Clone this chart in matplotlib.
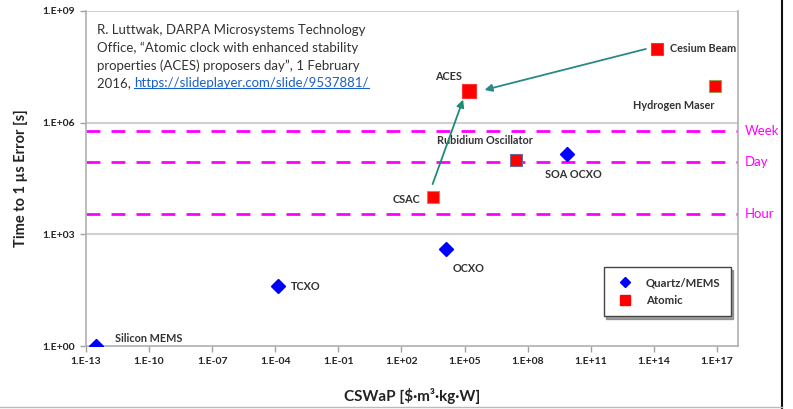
import numpy as np
import matplotlib
matplotlib.use("Agg")
import matplotlib.pyplot as plt
from matplotlib.lines import Line2D

plt.rcParams['font.family'] = ['Lato', 'DejaVu Sans']

# Oscillator technologies: CSWaP vs time to 1 us error
quartz_names = ['Silicon MEMS', 'TCXO', 'OCXO', 'SOA OCXO']
quartz_cswap = [10**-12.52, 10**-3.87, 10**4.1, 10**9.86]
quartz_time = [1.0, 10**1.61, 10**2.6, 10**5.15]

atomic_names = ['CSAC', 'Rubidium Oscillator', 'ACES', 'Cesium Beam', 'Hydrogen Maser']
atomic_cswap = [10**3.49, 10**7.43, 10**5.2, 10**14.16, 10**16.89]
atomic_time = [10**4.0, 10**4.99, 10**6.85, 10**7.98, 10**6.98]
atomic_edges = ['#e0803a', '#6a6aa0', '#ff3030', '#ff3030', '#9aa050']

ref_names = ['Hour', 'Day', 'Week']
ref_seconds = [3600, 86400, 604800]

xticks = [10.0**e for e in range(-13, 18, 3)]
yticks = [1e0, 1e3, 1e6, 1e9]

def excel_fmt(v):
    e = int(round(np.log10(v)))
    return '1.E%s%02d' % ('+' if e >= 0 else '-', abs(e))

W, H = 793, 409
fig = plt.figure(figsize=(W / 100, H / 100), dpi=100)
ax = fig.add_axes([86 / W, 1 - 346 / H, 652 / W, 335 / H])
ax.set_xscale('log')
ax.set_yscale('log')
ax.set_xlim(1e-13, 1e18)
ax.set_ylim(1e0, 1e9)

ax.set_xticks(xticks)
ax.set_xticklabels([excel_fmt(v) for v in xticks])
ax.set_yticks(yticks)
ax.set_yticklabels([excel_fmt(v) for v in yticks])
ax.minorticks_off()
ax.tick_params(axis='both', length=4, width=1, color='#a0a0a0', labelsize=7.5,
               labelcolor='#222222', pad=4)
for lab in ax.get_xticklabels() + ax.get_yticklabels():
    lab.set_fontweight('bold')

for side in ['left', 'bottom', 'right']:
    ax.spines[side].set_color('#b0b0b0')
    ax.spines[side].set_linewidth(1.2)
ax.spines['top'].set_visible(False)
for v in yticks[1:]:
    ax.axhline(v, color='#d0d0d0', lw=1.5, zorder=0)

# reference durations
for name, sec in zip(ref_names, ref_seconds):
    ax.axhline(sec, color='#ff00ff', lw=2, ls=(0, (5, 4)), zorder=1)
    ax.text(1.01, np.log10(sec) / 9, name, transform=ax.transAxes, color='#ff00ff',
            fontsize=9.5, va='center', ha='left')

ax.plot(quartz_cswap, quartz_time, 'D', color='#0000ff', markersize=7, ls='none',
        zorder=3, label='Quartz/MEMS')
for x, y, ec, name in zip(atomic_cswap, atomic_time, atomic_edges, atomic_names):
    ax.plot(x, y, 's', color='#ff0000', mec=ec, mew=0.8,
            markersize=10 if name == 'ACES' else 9, zorder=3)

# point labels (offsets in pixels)
label_pos = {
    'Silicon MEMS': (19, 8, 'left'),
    'TCXO': (13, 0, 'left'),
    'OCXO': (7, -19, 'left'),
    'SOA OCXO': (-22, -20, 'left'),
    'Rubidium Oscillator': (-31, 20, 'center'),
    'CSAC': (-12, -2, 'right'),
    'ACES': (-20, 15, 'center'),
    'Cesium Beam': (13, 0, 'left'),
    'Hydrogen Maser': (-41, -19, 'center'),
}
for name, x, y in zip(quartz_names + atomic_names, quartz_cswap + atomic_cswap,
                      quartz_time + atomic_time):
    dx, dy, ha = label_pos[name]
    ax.annotate(name, (x, y), xytext=(dx, dy), textcoords='offset pixels',
                ha=ha, va='center', fontsize=7.8, fontweight='bold', color='#333333')

# arrows towards ACES
ax.annotate('', xy=(10**4.93, 10**6.62), xytext=(10**3.48, 10**4.35),
            arrowprops=dict(arrowstyle='-|>', color='#1e8c72', lw=1.3,
                            mutation_scale=11, shrinkA=0, shrinkB=0))
ax.annotate('', xy=(10**5.95, 10**6.88), xytext=(10**13.62, 10**7.98),
            arrowprops=dict(arrowstyle='-|>', color='#2a8888', lw=1.3,
                            mutation_scale=11, shrinkA=0, shrinkB=0))

ax.set_xlabel('CSWaP [$·m³·kg·W]', fontsize=11, fontweight='bold', color='#222222',
              labelpad=16)
ax.set_ylabel('Time to 1 µs Error [s]', fontsize=10.5, fontweight='bold', color='#222222',
              labelpad=10)

leg_handles = [
    Line2D([], [], marker='D', color='#0000ff', ls='none', markersize=5),
    Line2D([], [], marker='s', color='#ff0000', ls='none', markersize=7),
]
leg = ax.legend(leg_handles, ['Quartz/MEMS', 'Atomic'], loc='lower left',
                bbox_to_anchor=(0.785, 0.072), fontsize=8.2, frameon=True,
                fancybox=False, shadow=True, edgecolor='#444444',
                borderpad=0.9, handletextpad=0.8, labelspacing=0.6)
leg.get_frame().set_linewidth(1.0)
for t in leg.get_texts():
    t.set_fontweight('bold')
    t.set_color('#333333')

# citation text
cite_lines = ['R. Luttwak, DARPA Microsystems Technology',
              'Office, \u201cAtomic clock with enhanced stability',
              'properties (ACES) proposers day\u201d, 1 February']
y0 = 30
fs = 9.5
for i, line in enumerate(cite_lines):
    fig.text(97 / W, 1 - (y0 + 17.7 * i) / H, line, fontsize=fs, color='#333333',
             va='center', ha='left')
yl = 1 - (y0 + 17.7 * 3) / H
t1 = fig.text(97 / W, yl, '2016, ', fontsize=fs, color='#333333', va='center', ha='left')
fig.canvas.draw()
r = fig.canvas.get_renderer()
bb = t1.get_window_extent(r)
link = fig.text(bb.x1 / W, yl, 'https://slideplayer.com/slide/9537881/', fontsize=fs,
                color='#1a5fc8', va='center', ha='left')
bl = link.get_window_extent(r)
fig.add_artist(Line2D([bl.x0 / W, bl.x1 / W], [(bl.y0 + 1) / H, (bl.y0 + 1) / H],
                      color='#1a5fc8', lw=0.8))

# screenshot frame on the right
fig.add_artist(Line2D([782 / W, 782 / W], [0, 1], color='#111111', lw=1.5))
fig.add_artist(Line2D([0, 782 / W], [2 / H, 2 / H], color='#bbbbbb', lw=1))

fig.savefig('out.png', dpi=100)
